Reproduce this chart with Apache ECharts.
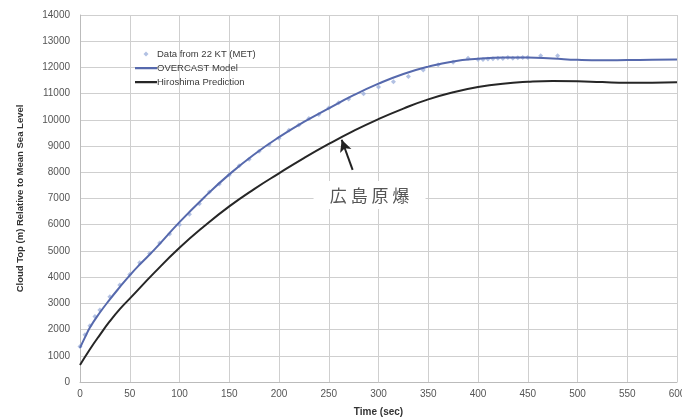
<!DOCTYPE html>
<html>
<head>
<meta charset="utf-8">
<script src="https://cdn.jsdelivr.net/npm/echarts@6/dist/echarts.min.js"></script>
<style>
  html, body { margin: 0; padding: 0; background: #fff; }
  #chart { width: 682px; height: 418px; }
</style>
</head>
<body>
<div id="chart"></div>
<script>
// Measured cloud-top heights (MET data), seconds after detonation
const metTime = [0, 5, 10, 15, 20, 30, 40, 50, 60, 70, 80, 90, 100, 110, 120, 130, 140, 150, 160, 170, 180, 190, 200, 210, 220, 230, 240, 250, 260, 270, 285, 300, 315, 330, 345, 360, 375, 390, 400, 405, 410, 415, 420, 425, 430, 435, 440, 445, 450, 463, 480];
const metHeight = [1350, 1800, 2150, 2500, 2750, 3250, 3700, 4100, 4550, 4900, 5300, 5650, 6000, 6400, 6800, 7250, 7550, 7900, 8250, 8500, 8800, 9050, 9300, 9600, 9800, 10050, 10200, 10450, 10650, 10800, 11000, 11250, 11450, 11650, 11900, 12100, 12200, 12350, 12300, 12300, 12320, 12330, 12350, 12340, 12380, 12350, 12370, 12380, 12380, 12450, 12450];

// OVERCAST model curve
const modelTime = [0, 5, 10, 20, 30, 40, 50, 60, 75, 100, 125, 150, 175, 200, 225, 250, 275, 300, 325, 350, 375, 400, 425, 450, 475, 500, 525, 550, 575, 600];
const modelHeight = [1300, 1700, 2080, 2650, 3150, 3620, 4070, 4480, 5060, 6100, 7050, 7920, 8680, 9340, 9920, 10440, 10940, 11380, 11750, 12030, 12230, 12330, 12380, 12380, 12340, 12290, 12270, 12280, 12290, 12300];

// Hiroshima prediction curve
const hiroTime = [0, 10, 20, 30, 40, 50, 75, 100, 125, 150, 175, 200, 225, 250, 275, 300, 325, 350, 375, 400, 425, 450, 475, 500, 525, 550, 575, 600];
const hiroHeight = [650, 1250, 1800, 2320, 2780, 3180, 4180, 5120, 5950, 6700, 7360, 7960, 8540, 9080, 9580, 10030, 10430, 10780, 11050, 11250, 11380, 11450, 11480, 11470, 11440, 11420, 11420, 11430];

// Axis ticks
const xTicks = [0, 50, 100, 150, 200, 250, 300, 350, 400, 450, 500, 550, 600];
const yTicks = [0, 1000, 2000, 3000, 4000, 5000, 6000, 7000, 8000, 9000, 10000, 11000, 12000, 13000, 14000];

// Annotation: label position and arrow (data space)
const noteLabel = '広 島 原 爆';
const notePos = [291, 7130];
const arrowFrom = [274, 8090];
const arrowTo = [263, 9240];

const zip = (xs, ys) => xs.map((x, i) => [x, ys[i]]);

const chart = echarts.init(document.getElementById('chart'), null, { renderer: 'canvas' });

const axisFont = { fontFamily: 'Liberation Sans', fontSize: 10, color: '#555' };

// Legend icons: a small diamond for the samples, a thin bar for the curves
const dotIcon = 'path://M0,0 L0,0 Z M22,10 L22,10 Z M8.5,5 L11,2.5 L13.5,5 L11,7.5 Z';
const barIcon = 'path://M0,0 L0,0 Z M22,10 L22,10 Z M0,4 L22,4 L22,6.2 L0,6.2 Z';

chart.setOption({
  animation: false,
  backgroundColor: '#fff',
  grid: { left: 80, right: 5, top: 15, bottom: 36, containLabel: false, outerBoundsMode: 'none' },
  legend: {
    orient: 'vertical',
    left: 130,
    top: 44,
    itemWidth: 22,
    itemHeight: 10,
    itemGap: 4,
    textStyle: { fontFamily: 'Liberation Sans', fontSize: 9.5, color: '#3a3a3a', padding: [0, 0, 0, -5] },
    data: [
      { name: 'Data from 22 KT (MET)', icon: dotIcon, itemStyle: { color: '#9fb2dc' } },
      { name: 'OVERCAST Model', icon: barIcon, itemStyle: { color: '#5669ad' } },
      { name: 'Hiroshima Prediction', icon: barIcon, itemStyle: { color: '#262626' } }
    ]
  },
  xAxis: {
    type: 'value',
    min: xTicks[0],
    max: xTicks[xTicks.length - 1],
    interval: 50,
    name: 'Time (sec)',
    nameLocation: 'middle',
    nameGap: 25,
    nameTextStyle: { fontFamily: 'Liberation Sans', fontSize: 10, fontWeight: 'bold', color: '#333' },
    axisLine: { lineStyle: { color: '#bbb' } },
    axisTick: { show: false },
    axisLabel: Object.assign({ margin: 7 }, axisFont),
    splitLine: { show: true, lineStyle: { color: '#cfcfcf', width: 1 } }
  },
  yAxis: {
    type: 'value',
    min: yTicks[0],
    max: yTicks[yTicks.length - 1],
    interval: 1000,
    name: 'Cloud Top (m) Relative to Mean Sea Level',
    nameLocation: 'middle',
    nameGap: 55,
    nameTextStyle: { fontFamily: 'Liberation Sans', fontSize: 9.5, fontWeight: 'bold', color: '#333' },
    axisLine: { show: true, lineStyle: { color: '#bbb' } },
    axisTick: { show: false },
    axisLabel: Object.assign({ margin: 10, formatter: v => String(v) }, axisFont),
    splitLine: { show: true, lineStyle: { color: '#cfcfcf', width: 1 } }
  },
  series: [
    {
      name: 'Data from 22 KT (MET)',
      type: 'scatter',
      data: zip(metTime, metHeight),
      symbol: 'diamond',
      symbolSize: 5,
      itemStyle: { color: '#9fb2dc' },
      z: 3
    },
    {
      name: 'OVERCAST Model',
      type: 'line',
      data: zip(modelTime, modelHeight),
      smooth: true,
      symbol: 'none',
      lineStyle: { color: '#5669ad', width: 2 },
      itemStyle: { color: '#5669ad' },
      z: 4
    },
    {
      name: 'Hiroshima Prediction',
      type: 'line',
      data: zip(hiroTime, hiroHeight),
      smooth: true,
      symbol: 'none',
      lineStyle: { color: '#262626', width: 2 },
      itemStyle: { color: '#262626' },
      z: 4,
      markLine: {
        silent: true,
        symbol: ['none', 'arrow'],
        symbolSize: [9, 12],
        label: { show: false },
        lineStyle: { color: '#222', width: 2, type: 'solid' },
        data: [[{ coord: arrowFrom }, { coord: arrowTo }]]
      },
      markPoint: {
        silent: true,
        symbol: 'rect',
        symbolSize: [112, 28],
        itemStyle: { color: '#ffffff' },
        label: {
          show: true,
          position: 'inside',
          formatter: noteLabel,
          fontFamily: 'Noto Sans CJK JP',
          fontSize: 17,
          color: '#555'
        },
        data: [{ coord: notePos }]
      }
    }
  ]
});
</script>
</body>
</html>
